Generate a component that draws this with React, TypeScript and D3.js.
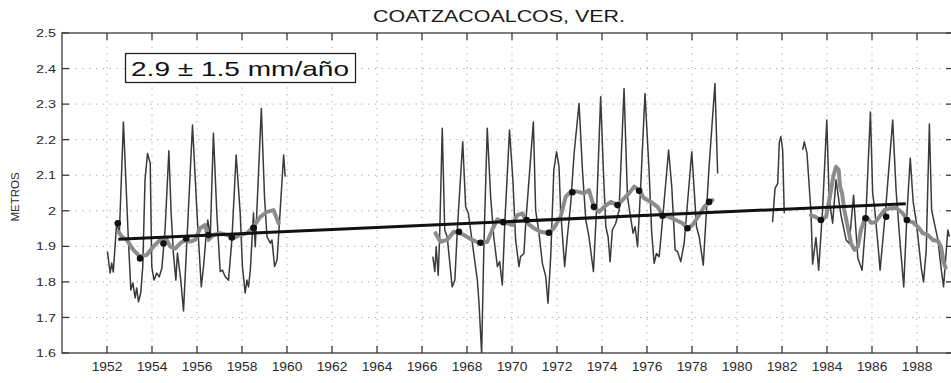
import React from "react";
import * as d3 from "d3";

// ---- Data ----
const monthlySeg1: [number, number][] = [
  [1952.02, 1.885], [1952.14, 1.825], [1952.21, 1.853], [1952.28, 1.828], [1952.43, 1.966],
  [1952.55, 1.937], [1952.73, 2.25], [1952.95, 1.918], [1953.06, 1.777], [1953.15, 1.797],
  [1953.25, 1.755], [1953.32, 1.783], [1953.4, 1.744], [1953.5, 1.769], [1953.59, 1.843],
  [1953.69, 2.087], [1953.8, 2.161], [1953.92, 2.134], [1953.99, 1.843], [1954.09, 1.805],
  [1954.21, 1.825], [1954.32, 1.814], [1954.44, 1.839], [1954.58, 1.946], [1954.75, 2.169],
  [1954.85, 1.994], [1954.95, 1.881], [1955.06, 1.805], [1955.13, 1.881], [1955.28, 1.805],
  [1955.4, 1.718], [1955.8, 2.241], [1956.0, 1.994], [1956.19, 1.786], [1956.29, 1.843],
  [1956.4, 1.927], [1956.48, 1.974], [1956.59, 1.927], [1956.73, 2.218], [1956.88, 1.994],
  [1957.03, 1.829], [1957.13, 1.833], [1957.25, 1.815], [1957.4, 1.805], [1957.55, 1.918],
  [1957.74, 2.157], [1957.92, 1.994], [1958.02, 1.843], [1958.14, 1.769], [1958.22, 1.805],
  [1958.29, 1.786], [1958.37, 1.833], [1958.51, 1.994], [1958.59, 1.899], [1958.86, 2.288],
  [1959.0, 2.04], [1959.11, 1.927], [1959.26, 1.909], [1959.33, 1.918], [1959.45, 1.843],
  [1959.56, 1.862], [1959.85, 2.157], [1959.92, 2.096],
];

const monthlySeg2: [number, number][] = [
  [1966.48, 1.871], [1966.57, 1.829], [1966.63, 1.899], [1966.72, 1.819], [1966.78, 1.918],
  [1966.9, 2.232], [1967.01, 1.946], [1967.12, 1.927], [1967.34, 1.786], [1967.46, 1.805],
  [1967.57, 1.946], [1967.81, 2.194], [1967.94, 2.011], [1968.06, 1.993], [1968.16, 1.946],
  [1968.3, 1.88], [1968.46, 1.805], [1968.53, 1.744], [1968.65, 1.6], [1968.75, 1.899],
  [1968.9, 2.232], [1969.05, 2.04], [1969.19, 1.927], [1969.35, 1.843], [1969.45, 1.857],
  [1969.57, 1.791], [1969.68, 1.965], [1969.89, 2.227], [1970.04, 2.086], [1970.16, 1.918],
  [1970.31, 1.843], [1970.38, 1.871], [1970.53, 1.88], [1970.61, 1.965], [1970.95, 2.25],
  [1971.05, 2.002], [1971.2, 1.937], [1971.35, 1.852], [1971.5, 1.815], [1971.6, 1.74],
  [1971.72, 1.871], [1971.86, 2.115], [1971.98, 2.166], [1972.09, 2.124], [1972.16, 2.002],
  [1972.34, 1.843], [1972.46, 1.927], [1972.61, 2.021], [1972.76, 2.161], [1972.98, 2.302],
  [1973.13, 2.115], [1973.28, 1.974], [1973.42, 1.927], [1973.62, 1.829], [1973.77, 2.021],
  [1973.94, 2.321], [1974.06, 2.115], [1974.17, 1.955], [1974.27, 1.927], [1974.36, 1.857],
  [1974.46, 1.946], [1974.61, 1.965], [1974.76, 2.002], [1974.98, 2.344], [1975.13, 2.04],
  [1975.38, 1.937], [1975.47, 1.955], [1975.58, 1.899], [1975.72, 2.068], [1975.91, 2.33],
  [1976.09, 2.115], [1976.21, 1.937], [1976.32, 1.852], [1976.42, 1.88], [1976.54, 1.871],
  [1976.69, 1.974], [1976.96, 2.171], [1977.1, 2.068], [1977.25, 1.89], [1977.36, 1.885],
  [1977.5, 1.857], [1977.65, 1.908], [1977.8, 2.021], [1977.99, 2.166], [1978.2, 1.955],
  [1978.32, 1.927], [1978.5, 1.847], [1978.75, 2.115], [1979.02, 2.358], [1979.14, 2.105],
];

const monthlySeg3: [number, number][] = [
  [1981.58, 1.968], [1981.69, 2.063], [1981.81, 2.077], [1981.88, 2.193], [1981.95, 2.208],
  [1982.03, 2.171], [1982.1, 1.993],
];

const monthlySeg4: [number, number][] = [
  [1982.92, 2.171], [1982.99, 2.194], [1983.11, 2.162], [1983.29, 1.993], [1983.36, 1.85],
  [1983.51, 1.925], [1983.63, 1.833], [1983.81, 2.011], [1983.99, 2.255], [1984.1, 2.03],
  [1984.25, 1.965], [1984.4, 2.087], [1984.62, 1.988], [1984.85, 1.918], [1984.99, 1.908],
  [1985.18, 2.044], [1985.37, 1.867], [1985.56, 1.833], [1985.71, 1.96], [1985.93, 2.278],
  [1986.03, 2.049], [1986.11, 2.011], [1986.26, 1.908], [1986.36, 1.833], [1986.6, 2.0],
  [1986.92, 2.255], [1987.07, 2.058], [1987.22, 1.932], [1987.41, 1.786], [1987.56, 2.0],
  [1987.7, 2.148], [1987.83, 2.025], [1987.97, 1.968], [1988.19, 1.839], [1988.29, 1.8],
  [1988.41, 1.89], [1988.55, 2.244], [1988.65, 2.002], [1988.93, 1.918], [1989.07, 1.839],
  [1989.18, 1.786], [1989.37, 1.946], [1989.44, 1.927],
];

const meanSeg1: [number, number][] = [
  [1952.51, 1.941], [1952.66, 1.927], [1952.88, 1.918], [1953.17, 1.89], [1953.47, 1.871],
  [1953.77, 1.876], [1954.06, 1.899], [1954.36, 1.918], [1954.58, 1.927], [1954.81, 1.899],
  [1955.03, 1.894], [1955.25, 1.908], [1955.47, 1.918], [1955.7, 1.913], [1955.92, 1.918],
  [1956.14, 1.951], [1956.36, 1.96], [1956.51, 1.918], [1956.73, 1.932], [1957.03, 1.937],
  [1957.33, 1.932], [1957.62, 1.923], [1957.92, 1.932], [1958.22, 1.937], [1958.51, 1.955],
  [1958.81, 1.983], [1959.11, 1.997], [1959.4, 2.002], [1959.63, 1.965],
];

const meanSeg2: [number, number][] = [
  [1966.6, 1.937], [1966.82, 1.913], [1967.12, 1.918], [1967.41, 1.941], [1967.64, 1.937],
  [1967.86, 1.932], [1968.23, 1.918], [1968.6, 1.908], [1968.9, 1.913], [1969.12, 1.946],
  [1969.35, 1.976], [1969.57, 1.969], [1969.79, 1.965], [1970.01, 1.96], [1970.24, 1.988],
  [1970.46, 1.993], [1970.68, 1.965], [1970.97, 1.951], [1971.27, 1.941], [1971.64, 1.937],
  [1971.86, 1.951], [1972.16, 1.983], [1972.39, 2.04], [1972.61, 2.054], [1972.91, 2.054],
  [1973.2, 2.049], [1973.42, 2.058], [1973.64, 2.011], [1973.87, 1.997], [1974.09, 2.011],
  [1974.39, 2.025], [1974.69, 2.016], [1974.91, 2.03], [1975.2, 2.049], [1975.43, 2.068],
  [1975.65, 2.058], [1975.87, 2.035], [1976.17, 2.025], [1976.47, 2.011], [1976.69, 1.988],
  [1976.98, 1.983], [1977.28, 1.974], [1977.58, 1.965], [1977.8, 1.951], [1978.02, 1.96],
  [1978.32, 1.988], [1978.54, 2.011], [1978.76, 2.025], [1978.91, 2.03],
];

const meanSeg3: [number, number][] = [
  [1983.29, 1.988], [1983.51, 1.982], [1983.73, 1.974], [1983.96, 1.983], [1984.13, 2.04],
  [1984.28, 2.096], [1984.4, 2.124], [1984.52, 2.115], [1984.58, 2.068], [1984.67, 2.049],
  [1984.77, 2.002], [1984.92, 1.955], [1985.07, 1.908], [1985.22, 1.89], [1985.37, 1.899],
  [1985.51, 1.946], [1985.66, 1.974], [1985.81, 1.979], [1985.96, 1.966], [1986.15, 1.968],
  [1986.33, 1.983], [1986.55, 2.002], [1986.77, 2.007], [1987.07, 2.008], [1987.37, 1.993],
  [1987.59, 1.971], [1987.81, 1.968], [1988.04, 1.955], [1988.26, 1.937], [1988.48, 1.932],
  [1988.7, 1.918], [1988.93, 1.915], [1989.07, 1.899], [1989.18, 1.855], [1989.27, 1.84],
];

const dotYears = [
  1952.48, 1953.47, 1954.51, 1955.52, 1956.51, 1957.55, 1958.51,
  1967.64, 1968.6, 1969.61, 1970.65, 1971.64, 1972.68, 1973.64, 1974.69, 1975.65, 1976.69, 1977.8, 1978.76,
  1983.73, 1985.71, 1986.63, 1987.55,
];
const dotValues = [
  1.965, 1.866, 1.908, 1.922, 1.932, 1.925, 1.952,
  1.941, 1.91, 1.968, 1.974, 1.938, 2.052, 2.011, 2.016, 2.056, 1.986, 1.951, 2.025,
  1.974, 1.979, 1.983, 1.974,
];

const trendYears = [1952.5, 1987.5];
const trendValues = [1.92, 2.02];

const xTickYears = d3.range(1952, 1989, 2);
const yTickValues = [1.6, 1.7, 1.8, 1.9, 2.0, 2.1, 2.2, 2.3, 2.4, 2.5];

const titleText = "COATZACOALCOS, VER.";
const yAxisLabel = "METROS";
const rateLabel = "2.9 \u00b1 1.5 mm/a\u00f1o";

// ---- Layout ----
const W = 951;
const H = 383;
const left = 62;
const right = 953;
const top = 33;
const bottom = 353;

export default function App() {
  const x = d3.scaleLinear().domain([1950, 1989.6]).range([left, right]);
  const y = d3.scaleLinear().domain([1.6, 2.5]).range([bottom, top]);
  const line = d3
    .line<[number, number]>()
    .x((d) => x(d[0]))
    .y((d) => y(d[1]));

  const font = "'Liberation Sans', Arial, Helvetica, sans-serif";
  const thinSegs = [monthlySeg1, monthlySeg2, monthlySeg3, monthlySeg4];
  const meanSegs = [meanSeg1, meanSeg2, meanSeg3];
  const tick = 7;

  return (
    <svg
      width={W}
      height={H}
      viewBox={`0 0 ${W} ${H}`}
      style={{ position: "absolute", left: 0, top: 0, background: "#fff" }}
      fontFamily={font}
    >
      <defs>
        <clipPath id="plotclip">
          <rect x={left} y={top} width={right - left} height={bottom - top} />
        </clipPath>
      </defs>
      <rect x={0} y={0} width={W} height={H} fill="#fff" />

      {/* grid */}
      <g stroke="#a8a8a8" strokeWidth={1} strokeDasharray="1.3,5.5">
        {xTickYears.map((t) => (
          <line key={"gx" + t} x1={x(t)} x2={x(t)} y1={top} y2={bottom} />
        ))}
        {yTickValues.slice(1, -1).map((v) => (
          <line key={"gy" + v} x1={left} x2={right} y1={y(v)} y2={y(v)} />
        ))}
      </g>

      <g clipPath="url(#plotclip)">
        {thinSegs.map((s, i) => (
          <path
            key={"thin" + i}
            d={line(s) || ""}
            fill="none"
            stroke="#3a3a3a"
            strokeWidth={1.5}
            strokeLinejoin="round"
          />
        ))}
        {meanSegs.map((s, i) => (
          <path
            key={"mean" + i}
            d={line(s) || ""}
            fill="none"
            stroke="#8c8c8c"
            strokeWidth={4}
            strokeLinejoin="round"
            strokeLinecap="round"
          />
        ))}
        {dotYears.map((yr, i) => (
          <circle key={"dot" + i} cx={x(yr)} cy={y(dotValues[i])} r={3.3} fill="#111" />
        ))}
        <line
          x1={x(trendYears[0])}
          y1={y(trendValues[0])}
          x2={x(trendYears[1])}
          y2={y(trendValues[1])}
          stroke="#111"
          strokeWidth={3}
        />
      </g>

      {/* frame and ticks */}
      <g stroke="#3a3a3a" strokeWidth={1.3} fill="none">
        <rect x={left} y={top} width={right - left} height={bottom - top} />
        {xTickYears.map((t) => (
          <g key={"tx" + t}>
            <line x1={x(t)} x2={x(t)} y1={bottom} y2={bottom - tick} />
            <line x1={x(t)} x2={x(t)} y1={top} y2={top + tick} />
          </g>
        ))}
        {yTickValues.map((v) => (
          <g key={"ty" + v}>
            <line x1={left} x2={left + tick} y1={y(v)} y2={y(v)} />
            <line x1={right} x2={right - tick} y1={y(v)} y2={y(v)} />
          </g>
        ))}
      </g>

      {/* tick labels */}
      <g fill="#2a2a2a" fontSize={11.5}>
        {yTickValues.map((v) => (
          <text
            key={"ly" + v}
            transform={`translate(56,${y(v)}) scale(1.25,1)`}
            dy="0.36em"
            textAnchor="end"
          >
            {d3.format("~g")(v)}
          </text>
        ))}
        {xTickYears.map((t) => (
          <text
            key={"lx" + t}
            transform={`translate(${x(t)},371) scale(1.15,1)`}
            textAnchor="middle"
            fontSize={12}
          >
            {t}
          </text>
        ))}
      </g>

      {/* axis label */}
      <text
        transform={`translate(19,${197}) rotate(-90)`}
        textAnchor="middle"
        fontSize={11.5}
        fill="#2a2a2a"
      >
        {yAxisLabel}
      </text>

      {/* title */}
      <text x={499} y={22} textAnchor="middle" fontSize={17} fill="#1a1a1a" textLength={252} lengthAdjust="spacingAndGlyphs">
        {titleText}
      </text>

      {/* rate box */}
      <rect x={125.5} y={53.5} width={230} height={29} fill="#fff" stroke="#222" strokeWidth={1.3} />
      <text x={131} y={76} fontSize={21} fill="#111" textLength={218} lengthAdjust="spacingAndGlyphs">
        {rateLabel}
      </text>
    </svg>
  );
}
